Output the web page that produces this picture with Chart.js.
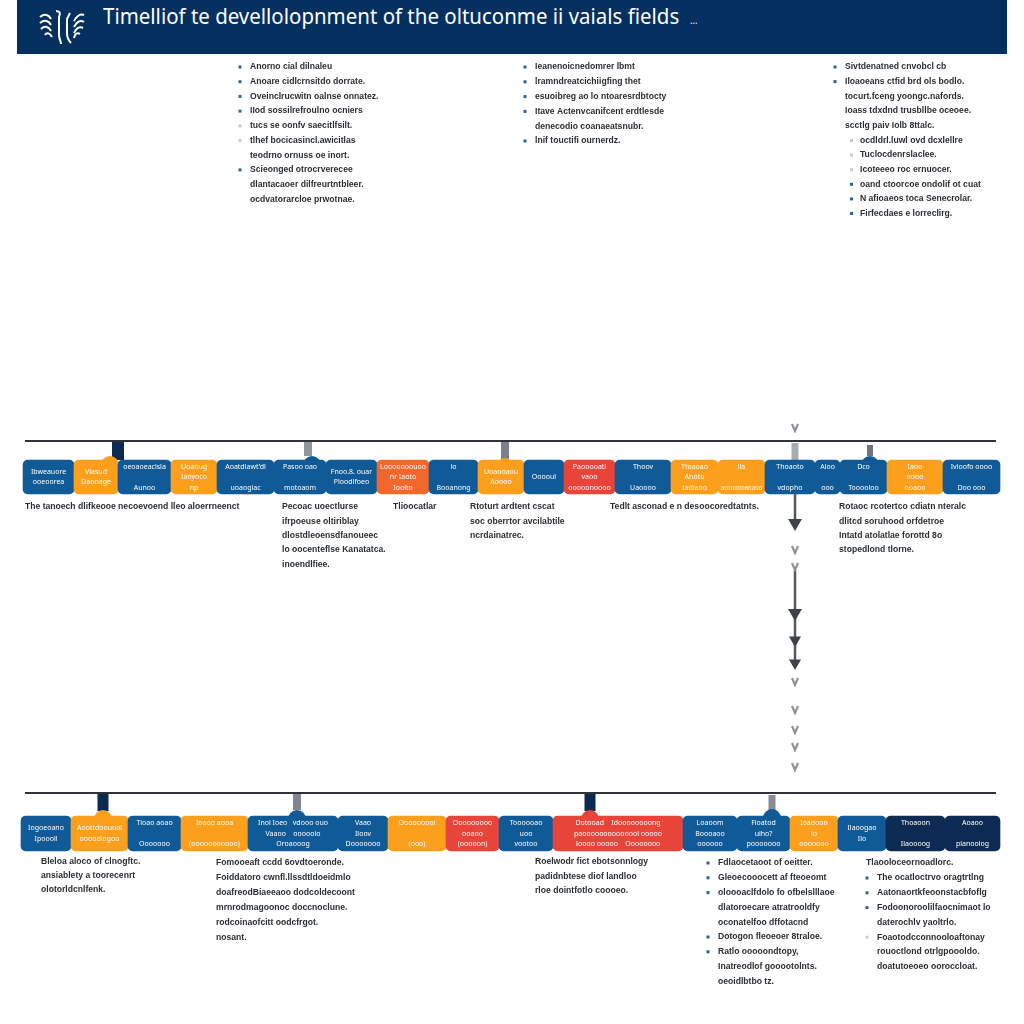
<!DOCTYPE html>
<html>
<head>
<meta charset="utf-8">
<title>Timeline</title>
<script src="https://cdn.jsdelivr.net/npm/chart.js@4"></script>
<style>
  html, body { margin: 0; background: #fff; }
  #wrap { position: relative; width: 1024px; height: 1024px; overflow: hidden; }
  #banner { position: absolute; left: 17px; top: 0; width: 990px; height: 54px; background: #03305f; }
  #banner h1 { position: absolute; left: 86px; top: 0; margin: 0; color: #fff; font: 400 22px/30px "Noto Sans", sans-serif; white-space: nowrap; transform: scaleX(.93); transform-origin: left; }
  #banner h1 small { font-size: 10px; margin-left: 6px; }
  #banner svg { position: absolute; left: 20px; top: 9px; }
  canvas { position: absolute; left: 0; top: 0; }
</style>
</head>
<body>
<div id="wrap">
  <canvas id="timeline" width="1024" height="1024"></canvas>
  <div id="banner">
    <svg width="50" height="38" viewBox="0 0 50 38" fill="none" stroke="#fff" stroke-width="2">
      <path d="M19 2c3 0 5 1 3 6v18c0 4 2 6 2 9M33 4l-3 6v14c0 4 2 8 4 10"/>
      <path d="M3 8c5-4 9-2 11 2M3 14c5-4 9-2 11 2M4 20c4-4 8-2 10 2M8 26c2-3 5-2 7 2"/>
      <path d="M47 6c-4-2-8 2-10 6M47 13c-4-3-8 1-10 5M46 19c-4-2-7 1-9 5M43 25c-3-2-5 0-6 4"/>
    </svg>
    <h1>Timelliof te devellolopnment of the oltuconme ii vaials fields <small>...</small></h1>
  </div>
</div>
<script>
const BLUE = '#0f5a97', ORANGE = '#fb9f1c', RED = '#e9443a', FLAME = '#f2682c', NAVY = '#0d2b52';

const rowOneStart = [23, 74, 118, 171, 217, 274, 326, 377, 429, 478, 524, 564, 615, 671, 718, 765, 815, 840, 887, 943];
const rowOneEnd = [74, 118, 171, 217, 274, 326, 377, 429, 478, 524, 564, 615, 671, 718, 765, 815, 840, 887, 943, 1000];
const rowOneColors = [BLUE, ORANGE, BLUE, ORANGE, BLUE, BLUE, BLUE, FLAME, BLUE, ORANGE, BLUE, RED, BLUE, ORANGE, ORANGE, BLUE, BLUE, BLUE, ORANGE, BLUE];
const rowOneLabels = [
  'Ibweauore\nooeoorea', 'Vlasud\nDaonage', 'oeoaoeaclsla\n\nAunoo', 'Uoaoug\nIaoyoco\nnp',
  'Aoatdlawt\'dl\n\nuoaoglac', 'Pasoo oao\n\nmotoaom', 'Fnoo.8. ouar\nPloodlfoeo', 'Looooooouoo\nnr Iaoto\nIoolto',
  'lo\n\nBooanong', 'Uoaooaou\nAoooo', 'Ooooul', 'Paooooatl\nvaoo\nooooonoooo', 'Thoov\n\nUaoooo',
  'Ttoaoao\nAhoto\nIadlaoo', 'lla\n\nacoooooaoaoo', 'Thoaoto\n\nvdopho', 'Aloo\n\nooo', 'Dco\n\nTooooloo',
  'Iaoo\noooo\nnoaoo', 'Ivloofo oooo\n\nDoo ooo'
];

const rowTwoStart = [21, 71, 128, 181, 248, 338, 388, 446, 499, 553, 683, 737, 790, 838, 886, 945];
const rowTwoEnd = [71, 128, 181, 248, 338, 388, 446, 499, 553, 683, 737, 790, 838, 886, 945, 1000];
const rowTwoColors = [BLUE, ORANGE, BLUE, ORANGE, BLUE, BLUE, ORANGE, RED, BLUE, RED, BLUE, BLUE, ORANGE, BLUE, NAVY, NAVY];
const rowTwoLabels = [
  'Iogoeoano\nIpoooll', 'Aoottdoouoal\noooodlogoo', 'Tioao aoao\n\nOoooooo', 'Ioaoo aooa\n\n(ooooooooooo)',
  'Inol Ioeo   vdooo ouo\nVaaoo    ooooolo\nOroaooog', 'Vaao\nIloov\nDooooooo', 'Ooooooool\n\n(ooo)', 'Ooooooooo\nooaoo\n(ooooon)',
  'Toooooao\nuoo\nvootoo', 'Dotooad    Idoooooooong\npaoooooooooooool ooooo\nIoooo ooooo    Oooooooo', 'Loaoom\nBoooaoo\noooooo', 'Fioatod\nuiho?\npooooooo',
  'Ioaoooo\nio\nooooooo', 'Ilaoogao\nIlo', 'Thoaoon\n\nIlaoooog', 'Aoaoo\n\npianoolog'
];

const rowOneLevel = 477;
const rowTwoLevel = 833.5;

// timeline rules: [from, to] along the page and the height they sit at
const ruleSpan = [25, 996];
const ruleLevels = [441, 793];

// connector pins above the boxes
const pinX = [118, 308, 505, 795, 870, 103, 297, 590, 772];
const pinTop = [442, 442, 442, 443, 445, 794, 794, 794, 795];
const pinBottom = [460, 456, 460, 460, 456, 811, 810, 811, 810];
const pinColors = [NAVY, '#8e959c', '#7b8188', '#a8adb2', '#6f767d', NAVY, '#7f868d', NAVY, '#868c92'];
const pinWidths = [12, 8, 8, 7, 6, 11, 8, 11, 7];

// tabs joining pin and box
const tabX = [110, 312, 505, 870, 103, 297, 590, 772];
const tabY = [465, 465, 467, 465, 819, 819, 819, 818];
const tabColors = [ORANGE, BLUE, ORANGE, BLUE, ORANGE, BLUE, RED, BLUE];

// arrows down the right hand side
const arrowX = 795;
const stemFrom = [494, 570, 613, 640];
const stemTo = [522, 612, 640, 662];
const bigHeads = [523, 613];
const midHeads = [640, 663];
const chevrons = [428, 550, 567, 682, 710, 730, 747, 767];

const notes = [
  { x: 250, y: 67, step: 14.7, bullet: [1, 1, 1, 1, 2, 2, 0, 1, 0, 0], lines: [
    'Anorno cial dilnaleu', 'Anoare cidlcrnsitdo dorrate.', 'Oveinclrucwitn oalnse onnatez.', 'IIod sossilrefroulno ocniers',
    'tucs se oonfv saecitlfsilt.', 'tlhef bocicasincl.awicitlas', 'teodrno ornuss oe inort.', 'Scieonged otrocrverecee',
    'dlantacaoer dilfreurtntbleer.', 'ocdvatorarcloe prwotnae.'] },
  { x: 535, y: 67, step: 14.8, bullet: [1, 1, 1, 1, 0, 1], lines: [
    'Ieanenoicnedomrer lbmt', 'lramndreatcichiigfing thet', 'esuoibreg ao lo ntoaresrdbtocty', 'Itave Actenvcanifcent erdtlesde',
    'denecodio coanaeatsnubr.', 'lnif touctifi ournerdz.'] },
  { x: 845, y: 67, step: 14.6, bullet: [1, 1, 0, 0, 0], lines: [
    'Sivtdenatned cnvobcl cb', 'Iloaoeans ctfid brd ols bodlo.', 'tocurt.fceng yoongc.nafords.', 'Ioass tdxdnd trusbllbe oceoee.', 'scctlg paiv Iolb 8ttalc.'] },
  { x: 860, y: 140.5, step: 14.6, bulletGap: 10, bullet: [2, 2, 2, 1, 1, 1], lines: [
    'ocdldrl.luwl ovd dcxlellre', 'Tuclocdenrslaclee.', 'Icoteeeo roc ernuocer.', 'oand ctoorcoe ondolif ot cuat', 'N afioaeos toca Senecrolar.', 'Firfecdaes e lorreclirg.'] },
  { x: 25, y: 507, step: 14.3, lines: ['The tanoech dlifkeooe necoevoend lleo aloerrneenct'] },
  { x: 282, y: 507, step: 14.3, lines: ['Pecoac uoectlurse', 'ifrpoeuse oltiriblay', 'dlostdleoensdfanoueec', 'lo oocenteflse Kanatatca.', 'inoendlfiee.'] },
  { x: 393, y: 507, step: 14.3, lines: ['Tlioocatlar'] },
  { x: 470, y: 507, step: 14.3, lines: ['Rtoturt ardtent cscat', 'soc oberrtor avcilabtile', 'ncrdainatrec.'] },
  { x: 610, y: 507, step: 14.3, lines: ['Tedlt asconad e n desoocoredtatnts.'] },
  { x: 839, y: 507, step: 14.3, lines: ['Rotaoc rcotertco cdiatn nteralc', 'dlitcd soruhood orfdetroe', 'Intatd atolatlae forottd 8o', 'stopedlond tlorne.'] },
  { x: 41, y: 862, step: 13.6, lines: ['Bleloa aloco of clnogftc.', 'ansiablety a toorecenrt', 'olotorldcnlfenk.'] },
  { x: 216, y: 863, step: 15, lines: ['Fomooeaft ccdd 6ovdtoeronde.', 'Foiddatoro cwnfl.llssdtldoeidmlo', 'doafreodBiaeeaoo dodcoldecoont', 'mrnrodmagoonoc doccnoclune.', 'rodcoinaofcitt oodcfrgot.', 'nosant.'] },
  { x: 535, y: 862, step: 14.5, lines: ['Roelwodr fict ebotsonnlogy', 'padidnbtese diof landloo', 'rloe dointfotlo coooeo.'] },
  { x: 718, y: 863, step: 14.8, bullet: [1, 1, 1, 0, 0, 1, 1, 0, 0], lines: [
    'Fdlaocetaoot of oeitter.', 'Gleoecooocett af fteoeomt', 'oloooaclfdolo fo ofbelslllaoe', 'dlatoroecare atratrooldfy', 'oconatelfoo dffotacnd',
    'Dotogon fleoeoer 8traloe.', 'Ratlo ooooondtopy,', 'Inatreodlof gooootolnts.', 'oeoidlbtbo tz.'] },
  { x: 866, y: 863, step: 14.7, lines: ['Tlaooloceornoadlorc.'] },
  { x: 877, y: 878, step: 14.8, bullet: [1, 1, 1, 0, 2, 0, 0], lines: [
    'The ocatloctrvo oragtrtlng', 'Aatonaortkfeoonstacbfoflg', 'Fodoonoroolilfaocnimaot lo', 'daterochlv yaoltrlo.', 'Foaotodcconnooloaftonay', 'rouoctlond otrlgpoooldo.', 'doatutoeoeo ooroccloat.'] }
];

const lineSet = (from, to, level, color, width, order) => ({
  data: [{ x: from, y: level }, { x: to, y: level }],
  showLine: true, borderColor: color, borderWidth: width, pointRadius: 0, order
});
const columnSet = (x, from, to, color, width, order) => ({
  data: [{ x, y: from }, { x, y: to }],
  showLine: true, borderColor: color, borderWidth: width, pointRadius: 0, borderCapStyle: 'butt', order
});
const rowSet = (starts, ends, colors, level, thickness) => ({
  type: 'bar',
  indexAxis: 'y',
  data: starts.map((start, i) => ({ x: [start, ends[i]], y: level })),
  backgroundColor: colors,
  barThickness: thickness,
  borderRadius: 5,
  borderSkipped: false,
  grouped: false,
  order: 3
});

function chevronImage() {
  const c = document.createElement('canvas');
  c.width = 10; c.height = 10;
  const g = c.getContext('2d');
  g.strokeStyle = '#8f9499';
  g.lineWidth = 2.2;
  g.beginPath();
  g.moveTo(2, 1); g.lineTo(5, 8); g.lineTo(8, 1);
  g.stroke();
  return c;
}

const drawText = {
  id: 'drawText',
  afterDatasetsDraw(chart) {
    const { ctx, scales: { x, y } } = chart;
    ctx.save();
    ctx.textBaseline = 'middle';

    const boxText = (starts, ends, labels, level) => {
      ctx.fillStyle = '#fff';
      ctx.textAlign = 'center';
      ctx.font = '400 7px "Noto Sans", sans-serif';
      labels.forEach((label, i) => {
        const rows = label.split('\n');
        const cx = x.getPixelForValue((starts[i] + ends[i]) / 2);
        rows.forEach((text, r) => {
          ctx.fillText(text, cx, y.getPixelForValue(level) + (r - (rows.length - 1) / 2) * 10.5, ends[i] - starts[i] - 6);
        });
      });
    };
    boxText(rowOneStart, rowOneEnd, rowOneLabels, rowOneLevel);
    boxText(rowTwoStart, rowTwoEnd, rowTwoLabels, rowTwoLevel);

    ctx.textAlign = 'left';
    notes.forEach(note => {
      note.lines.forEach((text, i) => {
        const ly = note.y + i * note.step;
        ctx.fillStyle = '#2b2f33';
        ctx.font = '600 8.6px "Liberation Sans", sans-serif';
        ctx.fillText(text, note.x, ly);
        const kind = note.bullet ? note.bullet[i] : 0;
        if (kind) {
          ctx.fillStyle = kind === 1 ? '#2a6496' : '#c9ced3';
          ctx.fillRect(note.x - (note.bulletGap || 11.5), ly - 1.5, 3, 3);
        }
      });
    });
    ctx.restore();
  }
};

new Chart(document.getElementById('timeline'), {
  type: 'scatter',
  data: {
    datasets: [
      ...ruleLevels.map(level => lineSet(ruleSpan[0], ruleSpan[1], level, '#2f3338', 2, 1)),
      ...stemFrom.map((from, i) => columnSet(arrowX, from, stemTo[i], '#55595e', 2.5, 1)),
      { data: bigHeads.map(y => ({ x: arrowX, y })), pointStyle: 'triangle', rotation: 180, pointRadius: 8, backgroundColor: '#3f4347', borderWidth: 0, order: 0 },
      { data: midHeads.map(y => ({ x: arrowX, y })), pointStyle: 'triangle', rotation: 180, pointRadius: 7, backgroundColor: '#3f4347', borderWidth: 0, order: 0 },
      { data: chevrons.map(y => ({ x: arrowX, y })), pointStyle: chevronImage(), order: 0 },
      rowSet(rowOneStart, rowOneEnd, rowOneColors, rowOneLevel, 34),
      rowSet(rowTwoStart, rowTwoEnd, rowTwoColors, rowTwoLevel, 35),
      { data: tabX.map((x, i) => ({ x, y: tabY[i] })), pointStyle: 'circle', pointRadius: 9, backgroundColor: tabColors, borderWidth: 0, order: 4 },
      ...pinX.map((x, i) => columnSet(x, pinTop[i], pinBottom[i], pinColors[i], pinWidths[i], 5))
    ]
  },
  options: {
    responsive: false,
    animation: false,
    layout: { padding: 0, autoPadding: false },
    plugins: { legend: { display: false }, tooltip: { enabled: false }, title: { display: false } },
    scales: {
      x: { type: 'linear', min: 0, max: 1024, offset: false, display: false },
      y: { type: 'linear', min: 0, max: 1024, reverse: true, offset: false, display: false }
    }
  },
  plugins: [drawText]
});
</script>
</body>
</html>
